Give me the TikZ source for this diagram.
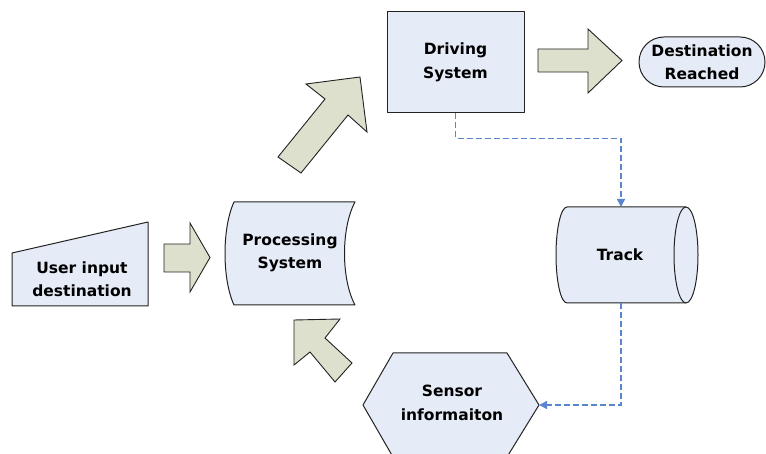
\documentclass[tikz,border=0pt]{standalone}
\usepackage{fontspec}
\setmainfont{DejaVu Sans}
\usetikzlibrary{arrows.meta,shapes.misc}

\definecolor{boxfill}{HTML}{E6ECF7}
\definecolor{arrowfill}{HTML}{DCE0CC}
\definecolor{edge}{HTML}{222222}
\definecolor{flow}{HTML}{5A86CF}

\tikzset{
  label text/.style={align=center, text=black,
    font=\bfseries\fontsize{15.5}{23.5}\selectfont},
  shapebox/.style={draw=edge, fill=boxfill, line width=1pt, line join=round},
  bigarrow/.style={draw=edge, fill=arrowfill, line width=0.9pt, line join=miter},
  conn/.style={draw=flow, line width=1.5pt, dash pattern=on 6pt off 3pt,
    -{Triangle[length=8pt,width=8pt]}},
}

\begin{document}
\begin{tikzpicture}[x=1pt,y=-1pt]
\useasboundingbox (0,0) rectangle (766,454);
\clip (0,0) rectangle (766,454);

% user input (manual input shape)
\draw[shapebox] (12,253) -- (148,222) -- (148,306) -- (12,306) -- cycle;
\node[label text] (input) at (82,279) {User input\\destination};

% block arrow: input -> processing
\draw[bigarrow] (164,244) -- (190,244) -- (190,223) -- (210,257.5)
  -- (190,292) -- (190,272) -- (164,272) -- cycle;

% processing system
\draw[shapebox] (234,202) -- (355,202)
  .. controls (341,228) and (341,279) .. (355,305)
  -- (234,305)
  .. controls (222,279) and (222,228) .. (234,202) -- cycle;
\node[label text] (proc) at (290,253) {Processing\\System};

% block arrow: processing -> driving
\draw[bigarrow] (278,157) -- (325,99) -- (306,84) -- (360,77)
  -- (367,132) -- (348,115) -- (301,173) -- cycle;

% block arrow: sensor -> processing
\draw[bigarrow] (294,320) -- (340,319) -- (325,338) -- (352,363)
  -- (335,382) -- (310,352) -- (294,365) -- cycle;

% driving system
\node[shapebox, label text, rectangle, minimum width=137pt, minimum height=101pt,
  inner sep=0pt] (drive) at (455.5,62.5) {Driving\\System};

% block arrow: driving -> destination
\draw[bigarrow] (538,49) -- (588,49) -- (588,29) -- (622,60.5)
  -- (588,93) -- (588,72) -- (538,72) -- cycle;

% destination reached (terminator)
\node[shapebox, label text, rounded rectangle, minimum width=126pt,
  minimum height=50pt, inner sep=0pt] (dest) at (702,62) {Destination\\Reached};

% track (horizontal cylinder)
\draw[shapebox] (567,207) -- (686,207)
  arc[start angle=-90, end angle=90, x radius=12, y radius=48]
  -- (567,303)
  arc[start angle=90, end angle=270, x radius=11, y radius=48] -- cycle;
\draw[draw=edge, line width=1pt] (686,207)
  arc[start angle=270, end angle=90, x radius=12, y radius=48];
\node[label text] (track) at (620,255) {Track};
\coordinate (trackTop) at (621,207);
\coordinate (trackBot) at (621,303);

% sensor information (hexagon)
\draw[shapebox] (393,353) -- (507,353) -- (539,405) -- (507,457)
  -- (393,457) -- (363,405) -- cycle;
\node[label text] (sensor) at (452,403) {Sensor\\informaiton};
\coordinate (sensorR) at (539,405);

% dashed flow connectors
\draw[conn] (drive.south) -- ++(0,25) -| (trackTop);
\draw[conn] (trackBot) |- (sensorR);

\end{tikzpicture}
\end{document}
